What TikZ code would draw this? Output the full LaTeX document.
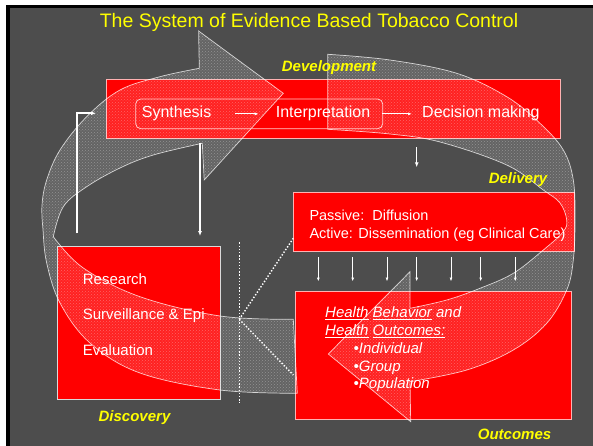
\documentclass[tikz,border=0pt]{standalone}
\usepackage{fontspec}
\setmainfont{Liberation Sans}
\usepackage{tikz}
\usetikzlibrary{arrows.meta, patterns, positioning}
\definecolor{slidegray}{HTML}{4D4D4D}
\definecolor{ttlyellow}{HTML}{FFFF00}
\definecolor{boxred}{HTML}{FF0000}

\begin{document}
\begin{tikzpicture}[x=1pt, y=-1pt, >={Latex[length=5pt,width=4pt]},
	redbox/.style={draw=white!70!red, line width=0.8pt, fill=boxred, inner sep=0pt},
	ribbon/.style={draw=white, draw opacity=0.75, line width=0.7pt, fill=white, fill opacity=0.13,
		postaction={pattern=crosshatch dots, pattern color=white, fill opacity=0.3}},
	stage/.style={text=ttlyellow, font=\fontsize{15}{18}\selectfont\bfseries\itshape, inner sep=0pt, anchor=base},
	txt/.style={text=white, inner sep=0pt, anchor=base west},
	wline/.style={draw=white, line width=1.8pt},
	thinarrow/.style={draw=white, line width=0.8pt, ->, >={Latex[length=4pt,width=3pt]}},
	dotline/.style={draw=white, line width=1.4pt, dash pattern=on 1.4pt off 1.8pt}]
	\useasboundingbox (0,0) rectangle (593,446);
	\fill[white] (0,0) rectangle (593,446);
	\fill[black] (6,5) rectangle (593,446);
	\fill[slidegray] (10,8) rectangle (593,446);

	\node[redbox, minimum width=453.3pt, minimum height=59pt] (devbox) at (333.3,108.8) {};
	\node[redbox, minimum width=281pt, minimum height=59.4pt] (delbox) at (433.8,222) {};
	\node[redbox, minimum width=276.4pt, minimum height=128.3pt] (outbox) at (433.5,355.2) {};
	\node[redbox, draw=white!70!gray, minimum width=162.7pt, minimum height=152.6pt] (disbox) at (138.7,323) {};

	\path[ribbon] plot[smooth, tension=0.6] coordinates {(297.3,393.3) (220,390) (140,373) (90,343) (60,303) (46.7,263) (43,230) (42,205) (46.7,180) (60,150) (86.7,116.7) (120,90) (160,76.7) (199.3,68.3)}
		-- (198.6,31) -- (283.3,93.3) -- (204.2,180) -- (202.3,143.3)
		-- plot[smooth, tension=0.6] coordinates {(202.3,143.3) (153.3,155) (120,168) (86.7,186.7) (63.3,206.7) (53.3,236.7)}
		-- plot[smooth, tension=0.6] coordinates {(53.3,236.7) (83.3,268) (140,296.7) (220,316) (293.3,319.3)} -- cycle;
	\path[ribbon] plot[smooth, tension=0.6] coordinates {(327.7,54.3) (390,60) (456.7,73.3) (506.7,96.7) (540,123.3) (563.3,150) (573.3,180) (575,220) (573.3,260) (566.7,290) (546.7,323.3) (513.3,350) (466.7,370) (410,381.7)}
		-- (410.7,421.7) -- (328.3,354) -- (410,271.7) -- (410,308.3)
		-- plot[smooth, tension=0.6] coordinates {(410,308.3) (446.7,300) (480,288.3) (513.3,273.3) (543.3,250) (563,232) (566.7,220) (560,203) (543.3,190) (506.7,165) (440,142) (390,134) (327.7,129.3)} -- cycle;

	\node[text=ttlyellow, font=\fontsize{19.5}{23}\selectfont, inner sep=0pt, anchor=base] (title) at (309,27.5) {The System of Evidence Based Tobacco Control};
	\node[stage] (devlbl) at (329,71.7) {Development};
	\node[stage] (dellbl) at (518,184) {Delivery};
	\node[stage] (dislbl) at (134.5,421) {Discovery};
	\node[stage] (outlbl) at (514.5,439) {Outcomes};

	\node[draw=white!80!red, line width=0.8pt, rounded corners=5pt, minimum width=247pt, minimum height=29.7pt] (pairbox) at (259.2,113.85) {};
	\node[txt, font=\fontsize{16}{19}\selectfont] (synth) at (141.7,118) {Synthesis};
	\node[txt, font=\fontsize{16}{19}\selectfont] (interp) at (275.7,118) {Interpretation};
	\node[txt, font=\fontsize{16}{19}\selectfont] (decide) at (422,118) {Decision making};
	\draw[thinarrow, shorten <=24pt, shorten >=17pt] (synth.east) -- (interp.west);
	\draw[thinarrow, shorten <=12pt, shorten >=10pt] (interp.east) -- (decide.west);

	\node[txt, font=\fontsize{14.5}{17}\selectfont] (passive) at (309.3,220.5) {Passive:\ \ Diffusion};
	\node[txt, font=\fontsize{14.5}{17}\selectfont] (active) at (309.3,238) {Active: Dissemination (eg Clinical Care)};

	\node[txt, font=\fontsize{15}{18}\selectfont] (research) at (82.7,284) {Research};
	\node[txt, font=\fontsize{15}{18}\selectfont] (surv) at (82.7,319.3) {Surveillance \& Epi};
	\node[txt, font=\fontsize{15}{18}\selectfont] (evalu) at (82.7,355) {Evaluation};

	\node[txt, font=\fontsize{15}{18}\selectfont\itshape] (hbehav) at (325,317.3) {\underline{Health} \underline{Behavior} and};
	\node[txt, font=\fontsize{15}{18}\selectfont\itshape] (hout) at (325,335.7) {\underline{Health} \underline{Outcomes:}};
	\node[txt, font=\fontsize{15}{18}\selectfont\itshape] (indiv) at (353.5,353.3) {\textbullet Individual};
	\node[txt, font=\fontsize{15}{18}\selectfont\itshape] (group) at (353.5,371) {\textbullet Group};
	\node[txt, font=\fontsize{15}{18}\selectfont\itshape] (popul) at (353.5,388.3) {\textbullet Population};

	\coordinate (lstart) at (77.3,233.3);
	\coordinate (lbend) at (77.3,113.3);
	\coordinate (ltip) at (96,113.3);
	\draw[wline, ->] (lstart) -- (lbend) -- (ltip);
	\coordinate (dtop) at (200,143.3);
	\coordinate (dbot) at (200,236);
	\draw[wline, line width=1.4pt, ->] (dtop) -- (dbot);
	\coordinate (rtop) at (416.7,147.3);
	\coordinate (rbot) at (416.7,167.3);
	\draw[wline, line width=1.4pt, ->] (rtop) -- (rbot);

	\foreach \x in {318.3,352.7,387,416.7,451,480.7,515.3}
		\draw[thinarrow] (\x,257) -- (\x,281.5);

	\coordinate (vtop) at (239.3,242.3);
	\coordinate (vbot) at (239.3,402.7);
	\coordinate (hub) at (239.3,319.3);
	\coordinate (dlink) at (293.3,238.3);
	\coordinate (olink) at (293.3,375);
	\draw[dotline] (vtop) -- (vbot);
	\draw[dotline] (hub) -- (dlink);
	\draw[dotline] (hub) -- (olink);
\end{tikzpicture}
\end{document}
